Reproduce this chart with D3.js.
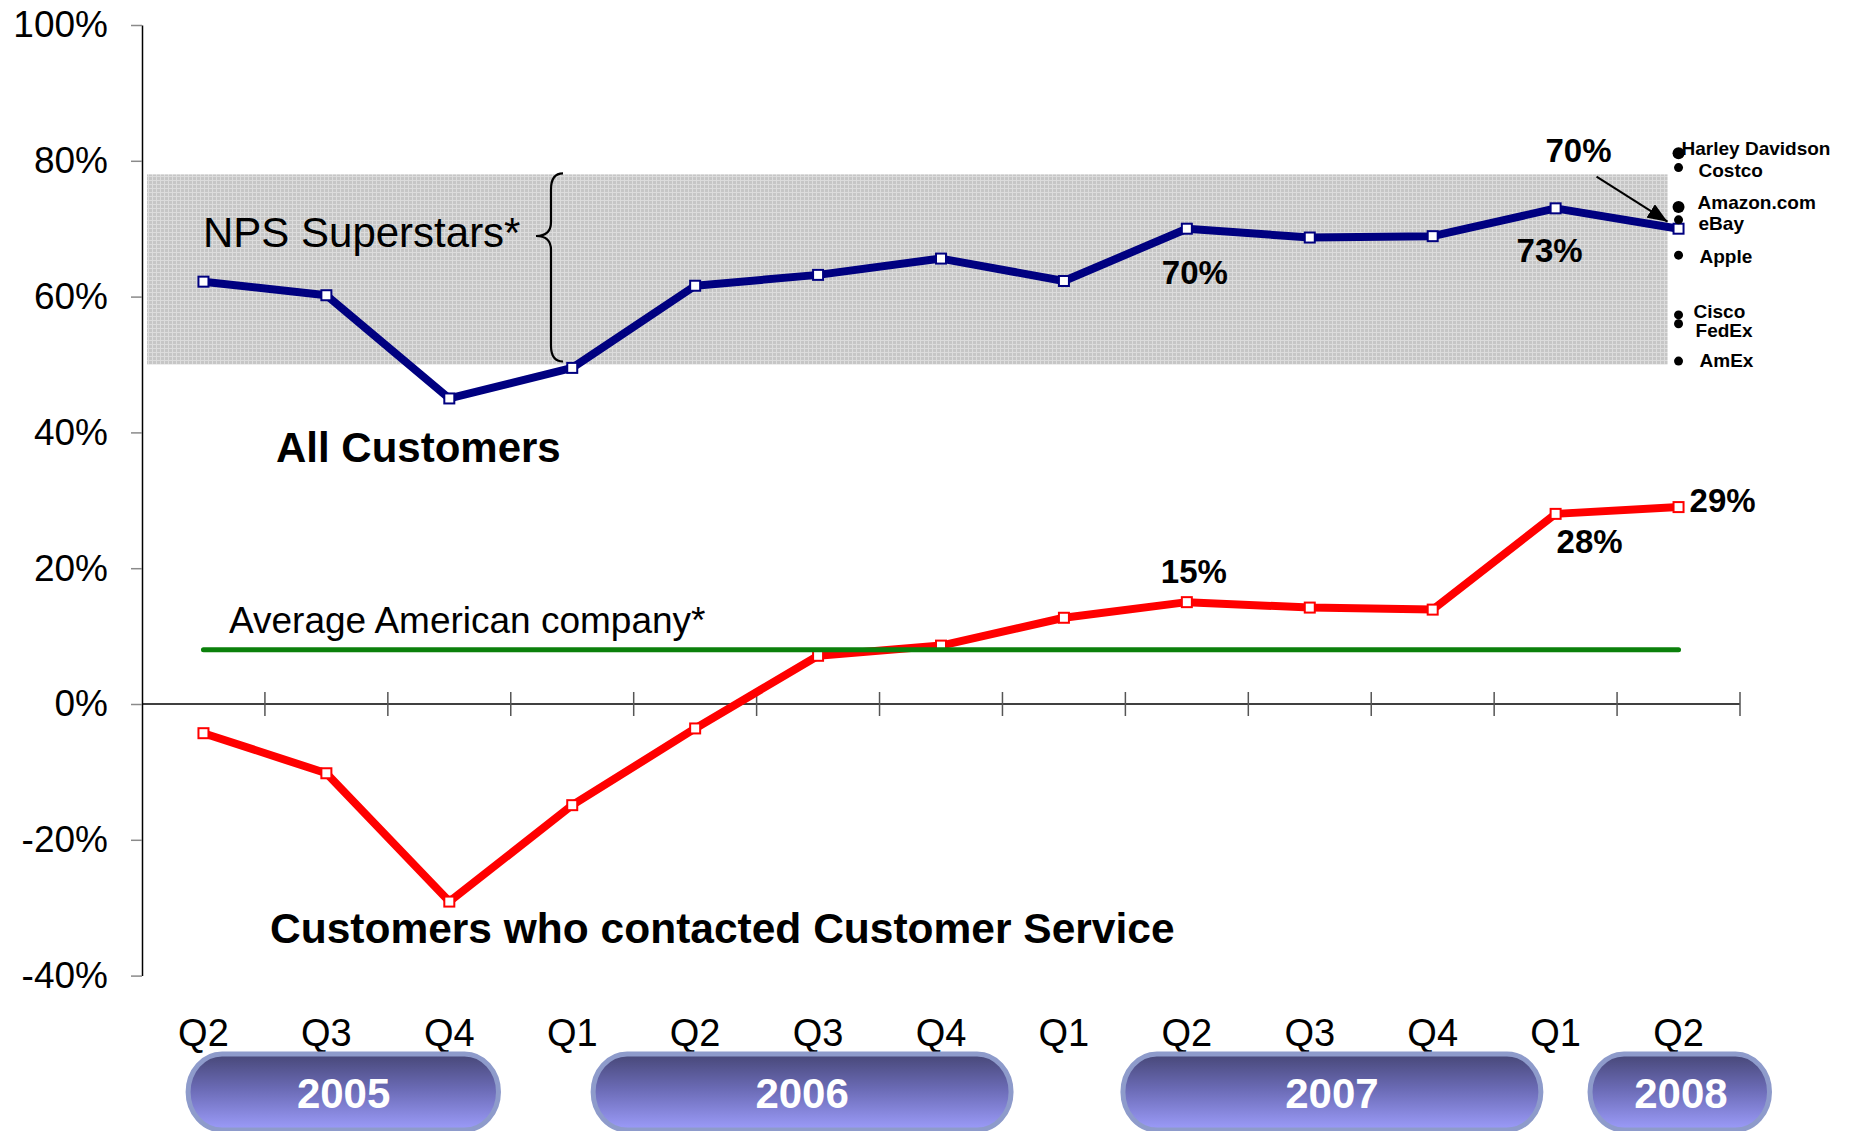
<!DOCTYPE html>
<html>
<head>
<meta charset="utf-8">
<script src="https://cdn.jsdelivr.net/npm/d3@7"></script>
<style>
  html, body { margin: 0; padding: 0; background: #fff; }
  svg { display: block; font-family: "Liberation Sans", Arial, Helvetica, sans-serif; }
</style>
</head>
<body>
<svg id="chart" width="1860" height="1131"></svg>
<script>
// ---- data -------------------------------------------------------------
const periods = ["2005 Q2","2005 Q3","2005 Q4","2006 Q1","2006 Q2","2006 Q3","2006 Q4",
                 "2007 Q1","2007 Q2","2007 Q3","2007 Q4","2008 Q1","2008 Q2"];
const quarterLabels = ["Q2","Q3","Q4","Q1","Q2","Q3","Q4","Q1","Q2","Q3","Q4","Q1","Q2"];
const years = ["2005","2006","2007","2008"];

// Net Promoter Score, all customers
const allCustomers = [0.622, 0.602, 0.450, 0.495, 0.616, 0.632, 0.656, 0.623, 0.70, 0.687, 0.689, 0.73, 0.70];
// Net Promoter Score, customers who contacted customer service
const serviceContacts = [-0.043, -0.102, -0.291, -0.149, -0.036, 0.071, 0.086, 0.127, 0.15, 0.142, 0.139, 0.28, 0.29];

const averageCompany = 0.08;          // average American company
const superstarRange = [0.50, 0.78];  // NPS superstar band

const companies = ["Harley Davidson","Costco","Amazon.com","eBay","Apple","Cisco","FedEx","AmEx"];
const companyScores = [0.811, 0.790, 0.732, 0.713, 0.661, 0.573, 0.560, 0.505];

const yTicks = [-0.4, -0.2, 0, 0.2, 0.4, 0.6, 0.8, 1.0];

// ---- scales -----------------------------------------------------------
const svg = d3.select("#chart");
const x = d3.scaleBand().domain(periods).range([142, 1740]).padding(0);
const cx = p => x(p) + x.bandwidth() / 2;
const at = t => cx(periods[0]) + t * x.step();     // fractional period position
const y = d3.scaleLinear().domain([-0.4, 1.0]).range([975.6, 25]);
const pct = d => Math.round(d * 100) + "%";

const defs = svg.append("defs");

// fine plaid texture for the superstar band
const pat = defs.append("pattern").attr("id", "plaid")
  .attr("width", 4).attr("height", 4).attr("patternUnits", "userSpaceOnUse");
pat.append("rect").attr("width", 4).attr("height", 4).attr("fill", "#c6c6c6");
pat.append("rect").attr("width", 4).attr("height", 1).attr("fill", "#dcdcdc");
pat.append("rect").attr("width", 1).attr("height", 4).attr("fill", "#dcdcdc");

// year pill gradient
const grad = defs.append("linearGradient").attr("id", "pill")
  .attr("x1", 0).attr("y1", 0).attr("x2", 0).attr("y2", 1);
grad.append("stop").attr("offset", "0%").attr("stop-color", "#474777");
grad.append("stop").attr("offset", "45%").attr("stop-color", "#6a6ab4");
grad.append("stop").attr("offset", "100%").attr("stop-color", "#9c9cfa");

// arrowhead
defs.append("marker").attr("id", "arrow")
  .attr("markerUnits", "userSpaceOnUse")
  .attr("markerWidth", 22).attr("markerHeight", 16)
  .attr("refX", 20).attr("refY", 8).attr("orient", "auto")
  .append("path").attr("d", "M0,0L20,8L0,16Z").attr("fill", "#000");

// ---- superstar band and brace ----------------------------------------
svg.append("rect")
  .attr("x", x.range()[0] + 5)
  .attr("y", y(superstarRange[1]))
  .attr("width", cx(periods[periods.length - 1]) - 11 - (x.range()[0] + 5))
  .attr("height", y(superstarRange[0]) - y(superstarRange[1]))
  .attr("fill", "url(#plaid)");

const bTop = y(superstarRange[1]) - 1, bBot = y(superstarRange[0]) - 3;
const bx = 551, bTip = 236;
svg.append("path")
  .attr("d", `M${bx + 12},${bTop} Q${bx},${bTop} ${bx},${bTop + 16} L${bx},${bTip - 14}
              Q${bx},${bTip} ${bx - 15},${bTip} Q${bx},${bTip} ${bx},${bTip + 14}
              L${bx},${bBot - 16} Q${bx},${bBot} ${bx + 12},${bBot}`)
  .attr("fill", "none").attr("stroke", "#000").attr("stroke-width", 2.2);

svg.append("text").attr("x", 203).attr("y", 247)
  .attr("font-size", 42).text("NPS Superstars*");

// ---- axes -------------------------------------------------------------
const yAxis = d3.axisLeft(y).tickValues(yTicks).tickSizeInner(11).tickSizeOuter(0)
  .tickPadding(23).tickFormat(pct);
svg.append("g").attr("transform", "translate(142,0)").call(yAxis)
  .call(g => g.attr("font-family", null))
  .call(g => g.select(".domain").attr("stroke", "#000").attr("stroke-width", 1.5))
  .call(g => g.selectAll(".tick line").attr("stroke", "#8a8a8a").attr("stroke-width", 1.5))
  .call(g => g.selectAll(".tick text").attr("font-size", 37).attr("fill", "#000"));

const y0 = y(0);
svg.append("line").attr("x1", 142).attr("x2", x.range()[1])
  .attr("y1", y0).attr("y2", y0).attr("stroke", "#000").attr("stroke-width", 1.5);
svg.append("g").selectAll("line").data(periods).join("line")
  .attr("x1", p => x(p) + x.bandwidth()).attr("x2", p => x(p) + x.bandwidth())
  .attr("y1", y0 - 12).attr("y2", y0 + 12)
  .attr("stroke", "#555").attr("stroke-width", 1.5);

// quarter labels
svg.append("g").selectAll("text").data(periods).join("text")
  .attr("x", p => cx(p)).attr("y", 1046)
  .attr("text-anchor", "middle").attr("font-size", 38)
  .text((p, i) => quarterLabels[i]);

// year pills (start, end, label centre in period units)
const pillSpans = { "2005": [-0.125, 2.40, 1.14], "2006": [3.17, 6.57, 4.87],
                    "2007": [7.48, 10.88, 9.18], "2008": [11.28, 12.74, 12.02] };
const pills = svg.append("g").selectAll("g").data(years).join("g");
pills.append("rect")
  .attr("x", d => at(pillSpans[d][0])).attr("y", 1054)
  .attr("width", d => at(pillSpans[d][1]) - at(pillSpans[d][0]))
  .attr("height", 76).attr("rx", 34).attr("ry", 38)
  .attr("fill", "url(#pill)").attr("stroke", "#8e9bcb").attr("stroke-width", 5);
pills.append("text")
  .attr("x", d => at(pillSpans[d][2])).attr("y", 1108)
  .attr("text-anchor", "middle").attr("font-size", 42).attr("font-weight", "bold")
  .attr("fill", "#fff").text(d => d);

// ---- series -----------------------------------------------------------
const line = d3.line().x((d, i) => cx(periods[i])).y(d => y(d));

function drawSeries(values, color) {
  svg.append("path").datum(values).attr("d", line)
    .attr("fill", "none").attr("stroke", color).attr("stroke-width", 8)
    .attr("stroke-linejoin", "round");
  svg.append("g").selectAll("rect").data(values).join("rect")
    .attr("x", (d, i) => cx(periods[i]) - 5).attr("y", d => y(d) - 5)
    .attr("width", 10).attr("height", 10)
    .attr("fill", "#fff").attr("stroke", color).attr("stroke-width", 2);
}
drawSeries(serviceContacts, "#ff0000");

// average American company
svg.append("line")
  .attr("x1", cx(periods[0])).attr("x2", cx(periods[periods.length - 1]))
  .attr("y1", y(averageCompany)).attr("y2", y(averageCompany))
  .attr("stroke", "#0b800b").attr("stroke-width", 5).attr("stroke-linecap", "round");
svg.append("text").attr("x", 229).attr("y", 633)
  .attr("font-size", 37).text("Average American company*");

drawSeries(allCustomers, "#000080");

// series titles
svg.append("text").attr("x", 276).attr("y", 462)
  .attr("font-size", 42).attr("font-weight", "bold").text("All Customers");
svg.append("text").attr("x", 270).attr("y", 943)
  .attr("font-size", 42.5).attr("font-weight", "bold").text("Customers who contacted Customer Service");

// ---- value callouts ---------------------------------------------------
const callouts = [
  { values: serviceContacts, i: 8,  dx: 7,   dy: -19, anchor: "middle" },
  { values: serviceContacts, i: 11, dx: 34,  dy: 39,  anchor: "middle" },
  { values: serviceContacts, i: 12, dx: 11,  dy: 5,   anchor: "start" },
  { values: allCustomers,    i: 8,  dx: 8,   dy: 55,  anchor: "middle" },
  { values: allCustomers,    i: 11, dx: -6,  dy: 54,  anchor: "middle" },
  { values: allCustomers,    i: 12, dx: -100, dy: -67, anchor: "middle" }
];
svg.append("g").selectAll("text").data(callouts).join("text")
  .attr("x", d => cx(periods[d.i]) + d.dx)
  .attr("y", d => y(d.values[d.i]) + d.dy)
  .attr("text-anchor", d => d.anchor)
  .attr("font-size", 33).attr("font-weight", "bold")
  .text(d => pct(d.values[d.i]));

// arrow from the latest callout to its point
const lastX = cx(periods[periods.length - 1]);
const lastY = y(allCustomers[allCustomers.length - 1]);
svg.append("line")
  .attr("x1", lastX - 82).attr("y1", lastY - 52)
  .attr("x2", lastX - 11).attr("y2", lastY - 7)
  .attr("stroke", "#000").attr("stroke-width", 2).attr("marker-end", "url(#arrow)");

// ---- benchmark companies ---------------------------------------------
const dotR = [6, 4.5, 6, 4.5, 4.5, 4.5, 4.5, 4.5];
const labelOffset = [[3, 1.5], [20, 9.5], [19, 1.7], [20, 10.5], [21, 7.4], [15, 3.1], [17, 12.9], [21, 6.3]];
const bench = svg.append("g");
bench.selectAll("circle").data(companyScores).join("circle")
  .attr("cx", lastX).attr("cy", d => y(d)).attr("r", (d, i) => dotR[i]).attr("fill", "#000");
bench.selectAll("text").data(companies).join("text")
  .attr("x", (d, i) => lastX + labelOffset[i][0])
  .attr("y", (d, i) => y(companyScores[i]) + labelOffset[i][1])
  .attr("font-size", 19).attr("font-weight", "bold").text(d => d);
</script>
</body>
</html>
